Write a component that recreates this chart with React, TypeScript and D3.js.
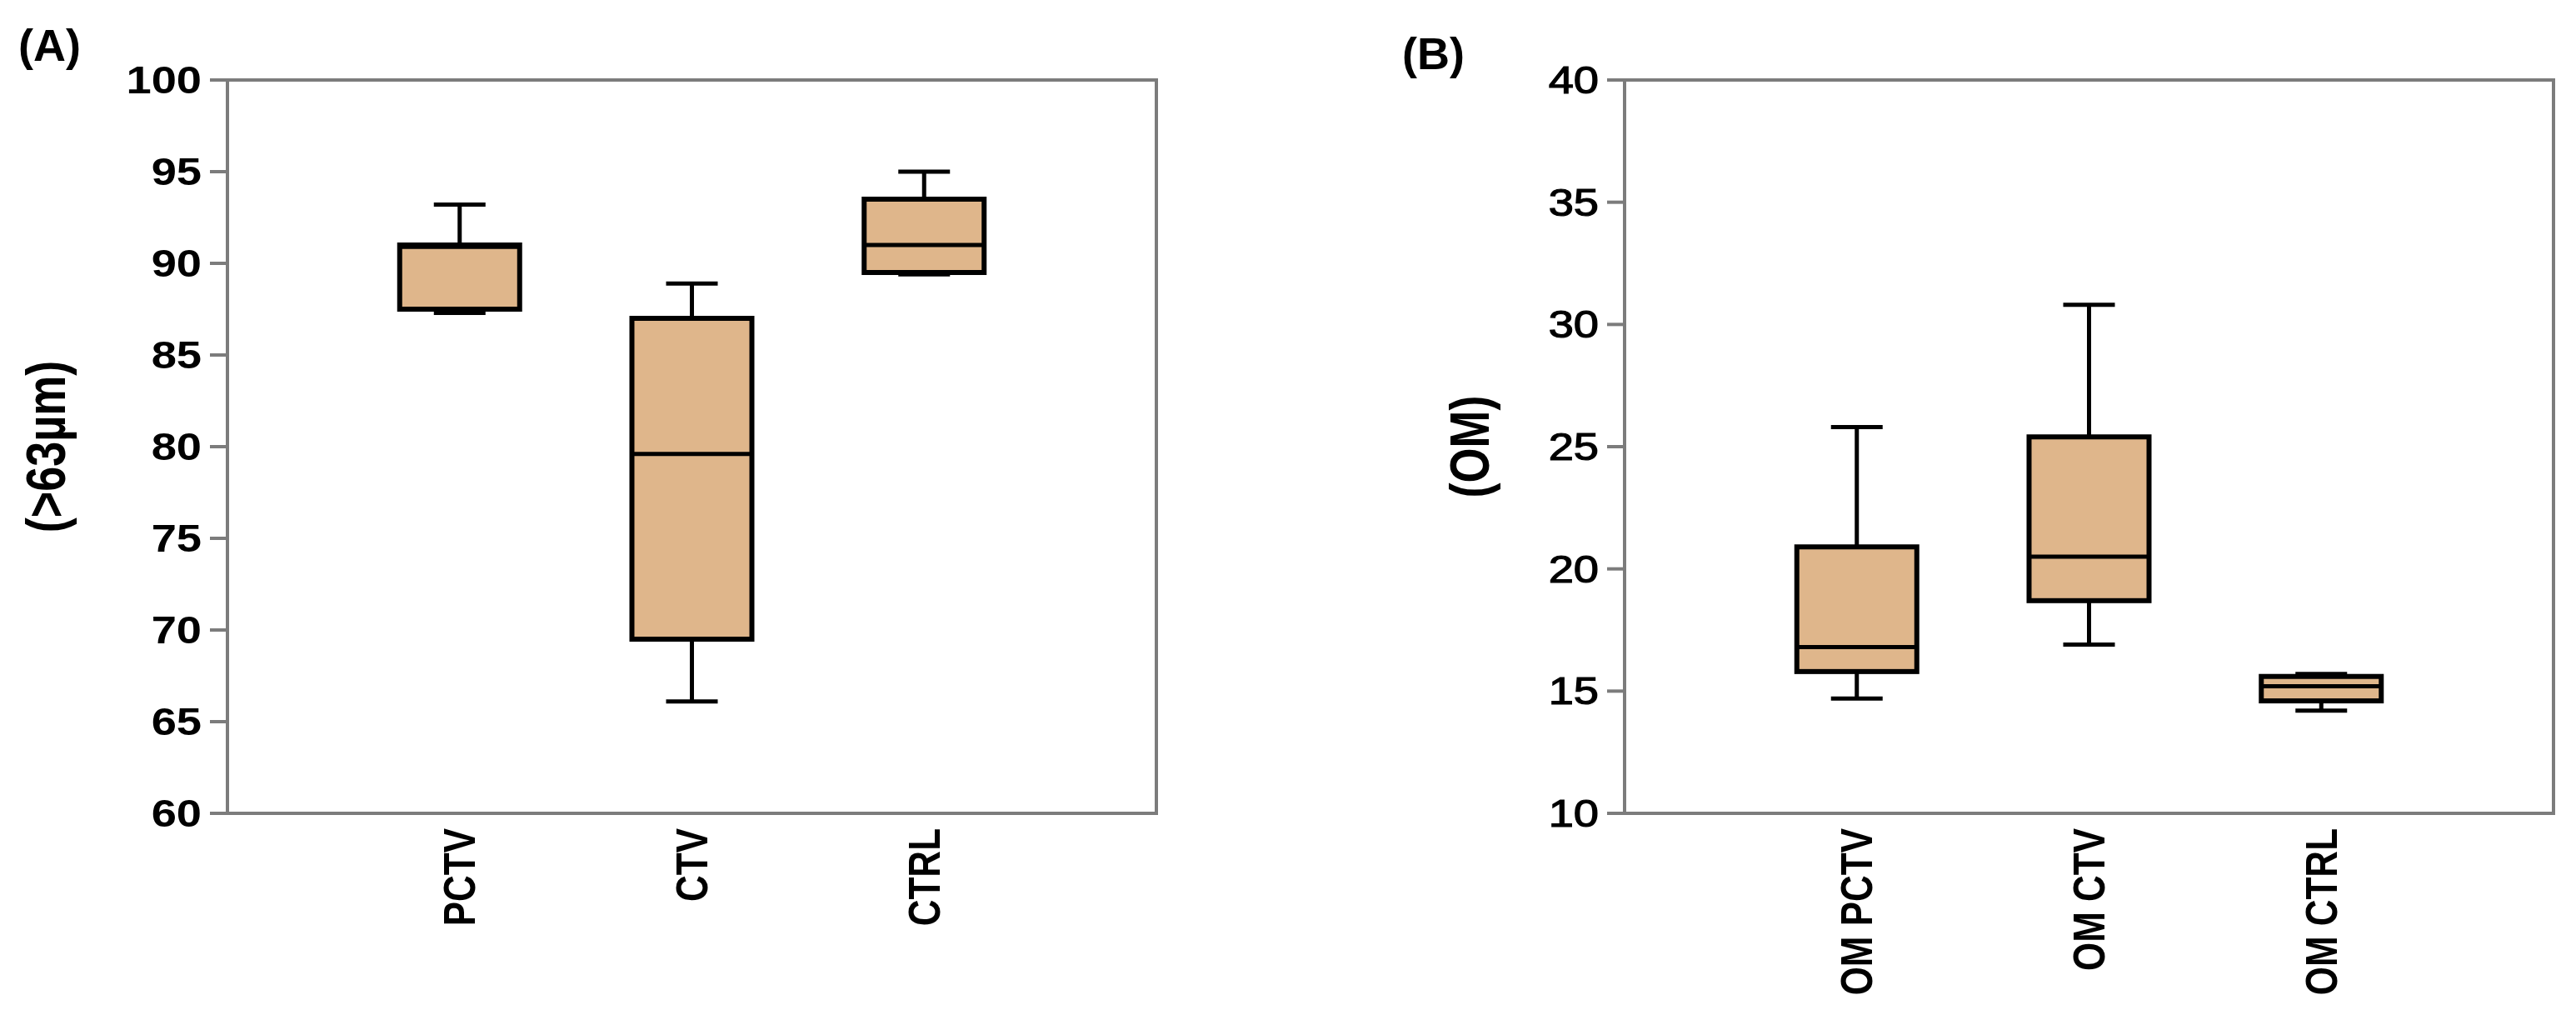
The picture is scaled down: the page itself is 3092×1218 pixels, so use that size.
import React, { useEffect } from "react";
import * as d3 from "d3";

// ---------- data ----------
const categoriesA = ["PCTV", "CTV", "CTRL"];
const lowA = [87.3, 66.1, 89.4];
const q1A = [87.5, 69.5, 89.5];
const medianA = [90.9, 79.6, 91.0];
const q3A = [91.0, 87.0, 93.5];
const highA = [93.2, 88.9, 95.0];
const ticksA = [60, 65, 70, 75, 80, 85, 90, 95, 100];

const categoriesB = ["OM PCTV", "OM CTV", "OM CTRL"];
const lowB = [14.7, 16.9, 14.2];
const q1B = [15.8, 18.7, 14.6];
const medianB = [16.8, 20.5, 15.2];
const q3B = [20.9, 25.4, 15.6];
const highB = [25.8, 30.8, 15.7];
const ticksB = [10, 15, 20, 25, 30, 35, 40];

// ---------- styling ----------
const FONT = "'Liberation Sans', Arial, Helvetica, sans-serif";
const FILL = "#DFB68B";
const AXIS = "#7c7c7c";

type PanelProps = {
  letter: string;
  letterX: number;
  letterY: number;
  title: string;
  titleX: number;
  cats: string[];
  low: number[];
  q1: number[];
  med: number[];
  q3: number[];
  high: number[];
  ticks: number[];
  left: number;
  right: number;
  tickWeight: string;
  tickStroke: number;
};

const TOP = 96;
const BOTTOM = 976;

function Panel(p: PanelProps) {
  const y = d3.scaleLinear().domain([p.ticks[0], p.ticks[p.ticks.length - 1]]).range([BOTTOM, TOP]);
  const x = d3.scalePoint<string>().domain(p.cats).range([p.left, p.right]).padding(1);
  const boxW = 144;
  const capW = 62;
  const midY = (TOP + BOTTOM) / 2;
  return (
    <g>
      <text
        x={p.letterX}
        y={p.letterY}
        fontFamily={FONT}
        fontWeight="bold"
        fontSize={54}
        fill="#000"
      >
        {p.letter}
      </text>
      <text
        transform={`translate(${p.titleX},${midY}) scale(1.24,1) rotate(-90)`}
        textAnchor="middle"
        dominantBaseline="central"
        fontFamily={FONT}
        fontWeight="bold"
        fontSize={54}
        fill="#000"
      >
        {p.title}
      </text>
      {/* frame */}
      <rect
        x={p.left}
        y={TOP}
        width={p.right - p.left}
        height={BOTTOM - TOP}
        fill="none"
        stroke={AXIS}
        strokeWidth={4}
      />
      {/* y ticks */}
      {p.ticks.map((t) => (
        <g key={t}>
          <line x1={p.left - 21} x2={p.left} y1={y(t)} y2={y(t)} stroke={AXIS} strokeWidth={4} />
          <text
            transform={`translate(${p.left - 31},${y(t)}) scale(1.18,1)`}
            textAnchor="end"
            dominantBaseline="central"
            fontFamily={FONT}
            fontWeight={p.tickWeight}
            fontSize={46}
            fill="#000"
            stroke="#000"
            strokeWidth={p.tickStroke}
          >
            {t}
          </text>
        </g>
      ))}
      {/* boxes */}
      {p.cats.map((c, i) => {
        const cx = x(c) as number;
        return (
          <g key={c}>
            <line x1={cx} x2={cx} y1={y(p.high[i])} y2={y(p.q3[i])} stroke="#000" strokeWidth={5} />
            <line x1={cx} x2={cx} y1={y(p.low[i])} y2={y(p.q1[i])} stroke="#000" strokeWidth={5} />
            <line x1={cx - capW / 2} x2={cx + capW / 2} y1={y(p.high[i])} y2={y(p.high[i])} stroke="#000" strokeWidth={5} />
            <line x1={cx - capW / 2} x2={cx + capW / 2} y1={y(p.low[i])} y2={y(p.low[i])} stroke="#000" strokeWidth={5} />
            <rect
              x={cx - boxW / 2}
              y={y(p.q3[i])}
              width={boxW}
              height={y(p.q1[i]) - y(p.q3[i])}
              fill={FILL}
              stroke="#000"
              strokeWidth={6}
            />
            <line x1={cx - boxW / 2} x2={cx + boxW / 2} y1={y(p.med[i])} y2={y(p.med[i])} stroke="#000" strokeWidth={5} />
            <text
              transform={`translate(${cx},${BOTTOM + 18}) scale(1.2,1) rotate(-90)`}
              textAnchor="end"
              dominantBaseline="central"
              fontFamily={FONT}
              fontWeight="bold"
              fontSize={44}
              fill="#000"
            >
              {c}
            </text>
          </g>
        );
      })}
    </g>
  );
}

export default function App() {
  useEffect(() => {
    document.body.style.margin = "0";
  }, []);
  return (
    <svg
      width={3092}
      height={1218}
      viewBox="0 0 3092 1218"
      style={{ display: "block", position: "absolute", left: 0, top: 0, background: "#fff" }}
    >
      <rect x={0} y={0} width={3092} height={1218} fill="#fff" />
      <Panel
        letter="(A)"
        letterX={22}
        letterY={73}
        title="(>63µm)"
        titleX={55}
        cats={categoriesA}
        low={lowA}
        q1={q1A}
        med={medianA}
        q3={q3A}
        high={highA}
        ticks={ticksA}
        left={273}
        right={1388}
        tickWeight="bold"
        tickStroke={0}
      />
      <Panel
        letter="(B)"
        letterX={1683}
        letterY={83}
        title="(OM)"
        titleX={1764}
        cats={categoriesB}
        low={lowB}
        q1={q1B}
        med={medianB}
        q3={q3B}
        high={highB}
        ticks={ticksB}
        left={1950}
        right={3065}
        tickWeight="normal"
        tickStroke={1.2}
      />
    </svg>
  );
}
